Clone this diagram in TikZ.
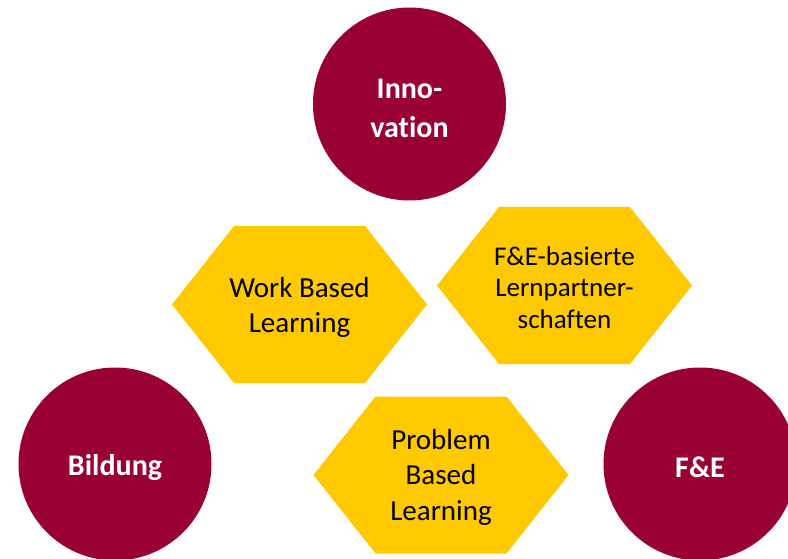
\documentclass[tikz,border=0pt]{standalone}
\usepackage{fontspec}
\setmainfont{Carlito}[Ligatures=NoCommon]
\definecolor{maroon}{RGB}{153,0,51}
\definecolor{hexyellow}{RGB}{255,201,0}
\tikzset{
  circ/.style={circle, fill=maroon, minimum size=193pt, inner sep=0pt, text=white, align=center, font=\bfseries\fontsize{30}{39}\selectfont},
  hexfill/.style={fill=hexyellow},
  hextext/.style={align=center, text=black, inner sep=0pt, font=\fontsize{29}{35.5}\selectfont},
  hextextsmall/.style={align=center, text=black, inner sep=0pt, font=\fontsize{27}{31.5}\selectfont}
}
\newcommand\hexpath[1]{\fill[hexfill] ($(#1)+(-127.5,0)$) -- ++(62,-78.5) -- ++(131,0) -- ++(62,78.5) -- ++(-62,78.5) -- ++(-131,0) -- cycle;}
\usetikzlibrary{calc}
\begin{document}
\begin{tikzpicture}[x=1pt,y=-1pt]
\useasboundingbox (0,0) rectangle (788,559);
\clip (0,0) rectangle (788,559);
\fill[white] (0,0) rectangle (788,559);
\node[circ] (inno) at (409.5,104) {\raisebox{-4.5pt}[\height][\depth]{\parbox{4cm}{\centering Inno-\\vation}}};
\node[circ] (bild) at (115,464) {\raisebox{-3.5pt}[\height][\depth]{Bildung}};
\node[circ] (fue) at (700,464) {\raisebox{-3pt}[\height][\depth]{F\&E}};
\coordinate (wblc) at (299.5,304.5);
\coordinate (febc) at (564.5,285.5);
\coordinate (pblc) at (441,475);
\hexpath{wblc}
\hexpath{febc}
\hexpath{pblc}
\node[hextext, yshift=-3pt] (wbl) at (wblc) {Work Based\\Learning};
\node[hextextsmall, yshift=-2pt] (feb) at (febc) {F\&E-basierte\\Lernpartner-\\schaften};
\node[hextext, yshift=-2pt] (pbl) at (pblc) {Problem\\Based\\Learning};
\end{tikzpicture}
\end{document}
